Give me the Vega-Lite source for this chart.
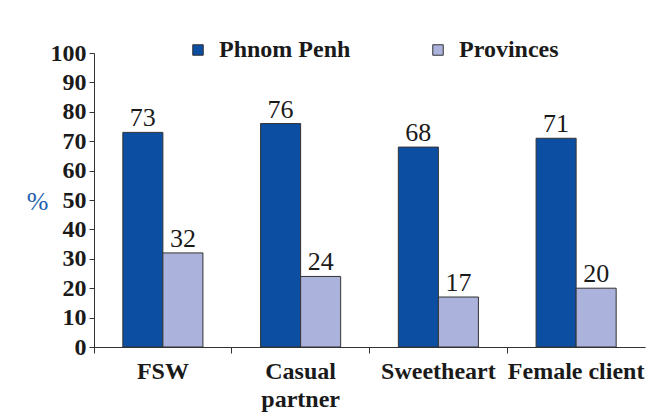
{
  "$schema": "https://vega.github.io/schema/vega-lite/v6.json",
  "autosize": {"type": "none"},
  "width": 551,
  "height": 294,
  "padding": {"left": 94, "top": 53, "right": 20, "bottom": 72},
  "background": "white",
  "config": {
    "view": {"stroke": null},
    "font": "Liberation Serif",
    "axis": {"labelFont": "Liberation Serif", "titleFont": "Liberation Serif", "labelFontWeight": "bold", "labelFontSize": 24, "labelColor": "#1a1a1a", "domainColor": "#333333", "tickColor": "#333333", "grid": false}
  },
  "data": {
    "values": [
      {"group": "FSW", "area": "Phnom Penh", "value": 73},
      {"group": "FSW", "area": "Provinces", "value": 32},
      {"group": "Casual partner", "area": "Phnom Penh", "value": 76},
      {"group": "Casual partner", "area": "Provinces", "value": 24},
      {"group": "Sweetheart", "area": "Phnom Penh", "value": 68},
      {"group": "Sweetheart", "area": "Provinces", "value": 17},
      {"group": "Female client", "area": "Phnom Penh", "value": 71},
      {"group": "Female client", "area": "Provinces", "value": 20}
    ]
  },
  "encoding": {
    "x": {
      "field": "group", "type": "nominal", "sort": null,
      "scale": {"paddingInner": 0, "paddingOuter": 0},
      "axis": {"title": null, "labelAngle": 0, "labelPadding": 6, "labelFontSize": 24, "tickSize": 6, "bandPosition": 0, "labelLineHeight": 28,
        "labelExpr": "datum.label == 'Casual partner' ? ['Casual', 'partner'] : datum.label"}
    },
    "xOffset": {"field": "area", "type": "nominal", "scale": {"paddingInner": 0, "paddingOuter": 0.72}},
    "y": {
      "field": "value", "type": "quantitative",
      "scale": {"domain": [0, 100], "nice": false},
      "axis": {"values": [0,10,20,30,40,50,60,70,80,90,100], "tickSize": 5, "labelPadding": 3,
        "title": "%", "titleAngle": 0, "titleColor": "#1f5fae", "titleFontWeight": "normal", "titleFontSize": 26,
        "titleX": -57, "titleY": 148, "titleAlign": "center", "titleBaseline": "middle"}
    }
  },
  "layer": [
    {
      "mark": {"type": "bar", "stroke": "#333333", "strokeWidth": 1},
      "encoding": {
        "color": {
          "field": "area", "type": "nominal",
          "scale": {"domain": ["Phnom Penh", "Provinces"], "range": ["#0b4ea2", "#abb3dc"]},
          "legend": {"title": null, "orient": "none", "direction": "horizontal", "legendX": 92, "legendY": -15,
            "symbolType": "square", "symbolSize": 110, "symbolStrokeColor": "#333333", "symbolStrokeWidth": 1,
            "labelFont": "Liberation Serif", "labelFontWeight": "bold", "labelFontSize": 24, "labelColor": "#1a1a1a",
            "columnPadding": 75, "labelOffset": 9}
        }
      }
    },
    {
      "mark": {"type": "text", "baseline": "bottom", "dy": -1, "font": "Liberation Serif", "fontSize": 26, "fontWeight": "normal", "color": "#1a1a1a"},
      "encoding": {"text": {"field": "value", "type": "quantitative"}}
    }
  ]
}
